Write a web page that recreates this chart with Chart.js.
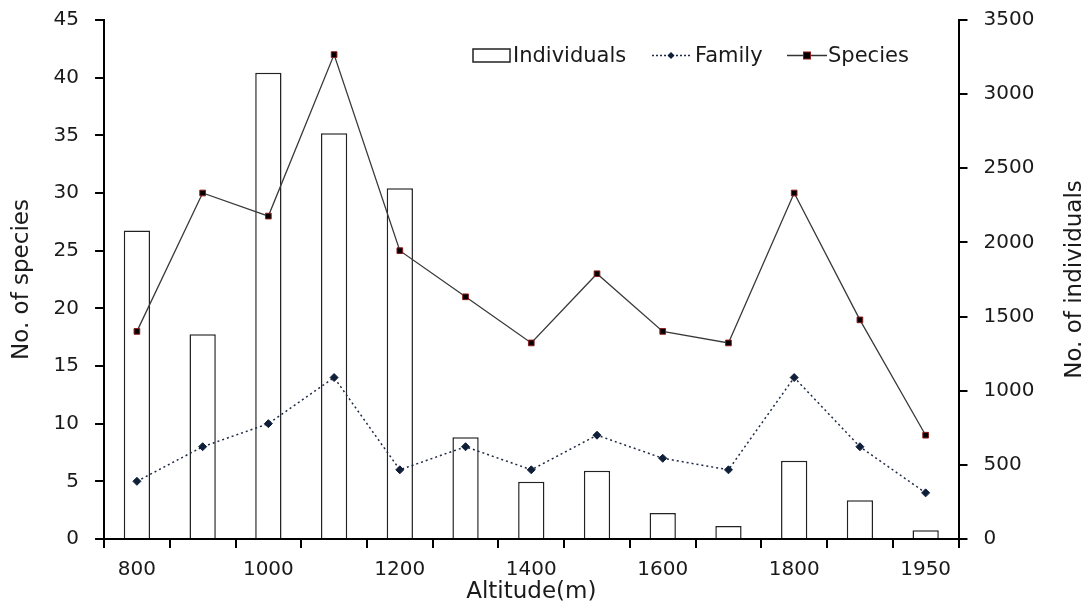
<!DOCTYPE html>
<html>
<head>
<meta charset="utf-8">
<script src="https://cdn.jsdelivr.net/npm/chart.js@4"></script>
<style>
html,body{margin:0;padding:0;background:#fff;}
#wrap{position:relative;width:1091px;height:602px;}
</style>
</head>
<body>
<div id="wrap"><canvas id="c" width="1091" height="602"></canvas></div>
<script>
const categories = ['800','900','1000','1100','1200','1300','1400','1500','1600','1700','1800','1900','1950'];
const individuals = [2080,1380,3145,2736,2365,686,386,460,175,88,528,261,59];
const family = [5,8,10,14,6,8,6,9,7,6,14,8,4];
const species = [18,30,28,42,25,21,17,23,18,17,30,19,9];
const leftTicks = {min:0, max:45, step:5};
const rightTicks = {min:0, max:3500, step:500};

const FONT = '"DejaVu Sans", "Noto Sans", sans-serif';
const TEXT = '#1a1a1a';

const extrasPlugin = {
  id: 'extras',
  afterDraw(chart) {
    const ctx = chart.ctx;
    ctx.save();
    // right axis title, reading bottom-to-top
    const area = chart.chartArea;
    ctx.font = '23px ' + FONT;
    ctx.fillStyle = TEXT;
    ctx.textAlign = 'center';
    ctx.textBaseline = 'middle';
    ctx.translate(1075, (area.top + area.bottom) / 2);
    ctx.rotate(-Math.PI / 2);
    ctx.fillText('No. of individuals', 0, 0);
    ctx.restore();

    ctx.save();
    ctx.font = '21px ' + FONT;
    ctx.textBaseline = 'alphabetic';
    ctx.textAlign = 'left';
    const y = 55.5, by = 62;
    // Individuals
    ctx.strokeStyle = '#222';
    ctx.lineWidth = 1.5;
    ctx.fillStyle = '#fff';
    ctx.fillRect(473, 49, 37, 13);
    ctx.strokeRect(473, 49, 37, 13);
    ctx.fillStyle = TEXT;
    ctx.fillText('Individuals', 513, by);
    // Family
    ctx.strokeStyle = '#1f2a44';
    ctx.lineWidth = 1.5;
    ctx.setLineDash([2, 2]);
    ctx.beginPath(); ctx.moveTo(652, y); ctx.lineTo(690, y); ctx.stroke();
    ctx.setLineDash([]);
    ctx.fillStyle = '#0f1f3a';
    ctx.beginPath(); ctx.moveTo(671, y-3.5); ctx.lineTo(674.5, y); ctx.lineTo(671, y+3.5); ctx.lineTo(667.5, y); ctx.closePath(); ctx.fill();
    ctx.fillStyle = TEXT;
    ctx.fillText('Family', 695, by);
    // Species
    ctx.strokeStyle = '#333';
    ctx.lineWidth = 1.3;
    ctx.beginPath(); ctx.moveTo(787, y); ctx.lineTo(827, y); ctx.stroke();
    ctx.fillStyle = '#000';
    ctx.fillRect(803.5, y-3.5, 7, 7);
    ctx.strokeStyle = '#8b1a1a';
    ctx.lineWidth = 1;
    ctx.strokeRect(803.5, y-3.5, 7, 7);
    ctx.fillStyle = TEXT;
    ctx.fillText('Species', 828, by);
    ctx.restore();
  }
};

function trimVertical(scale) { scale.paddingTop = 0; scale.paddingBottom = 0; }

new Chart(document.getElementById('c'), {
  data: {
    labels: categories,
    datasets: [
      {
        type: 'line', label: 'Family', data: family, yAxisID: 'yL', order: 1,
        borderColor: '#1f2a44', borderWidth: 1.5, borderDash: [2, 3],
        pointStyle: 'rectRot', pointRadius: 4, pointBackgroundColor: '#0f1f3a',
        pointBorderColor: '#0f1f3a', pointBorderWidth: 1, tension: 0, fill: false
      },
      {
        type: 'line', label: 'Species', data: species, yAxisID: 'yL', order: 0,
        borderColor: '#3a3a3a', borderWidth: 1.3,
        pointStyle: 'rect', pointRadius: 4, pointBackgroundColor: '#000',
        pointBorderColor: '#8b1a1a', pointBorderWidth: 1, tension: 0, fill: false
      },
      {
        type: 'bar', label: 'Individuals', data: individuals, yAxisID: 'yR', order: 2,
        backgroundColor: '#fff', borderColor: '#222', borderWidth: 1.5,
        barPercentage: 0.4, categoryPercentage: 1.0
      }
    ]
  },
  options: {
    responsive: false,
    animation: false,
    devicePixelRatio: 1,
    layout: { padding: { left: 8, right: 3, top: 20, bottom: 0 } },
    plugins: { legend: { display: false }, tooltip: { enabled: false } },
    scales: {
      x: {
        type: 'category', offset: true,
        afterFit: function(s) { s.height = 63; },
        grid: { offset: true, drawOnChartArea: false, drawTicks: true, tickLength: 9, color: '#000', lineWidth: 2 },
        border: { display: true, color: '#000', width: 2 },
        ticks: {
          autoSkip: false, maxRotation: 0, color: TEXT, padding: 10,
          font: { family: FONT, size: 20 },
          callback: function(v, i) { return i % 2 === 0 ? categories[i] : ''; }
        },
        title: { display: true, text: 'Altitude(m)', color: TEXT, font: { family: FONT, size: 23 }, padding: { top: -17, bottom: -4 } }
      },
      yL: {
        type: 'linear', position: 'left', min: leftTicks.min, max: leftTicks.max,
        afterFit: trimVertical,
        grid: { drawOnChartArea: false, drawTicks: true, tickLength: 9, color: '#000', lineWidth: 2 },
        border: { display: true, color: '#000', width: 2 },
        ticks: { stepSize: leftTicks.step, color: TEXT, padding: 16, font: { family: FONT, size: 20 } },
        title: { display: true, text: 'No. of species', color: TEXT, font: { family: FONT, size: 23 }, padding: { top: 0, bottom: 2 } }
      },
      yR: {
        type: 'linear', position: 'right', min: rightTicks.min, max: rightTicks.max,
        afterFit: trimVertical,
        grid: { drawOnChartArea: false, drawTicks: true, tickLength: 9, color: '#000', lineWidth: 2 },
        border: { display: true, color: '#000', width: 2 },
        ticks: { stepSize: rightTicks.step, color: TEXT, padding: 16, font: { family: FONT, size: 20 },
                 callback: function(v) { return String(v); } },
        title: { display: true, text: 'No. of individuals', color: 'rgba(0,0,0,0)', font: { family: FONT, size: 23 }, padding: { top: 10, bottom: 0 } }
      }
    }
  },
  plugins: [extrasPlugin]
});
</script>
</body>
</html>
